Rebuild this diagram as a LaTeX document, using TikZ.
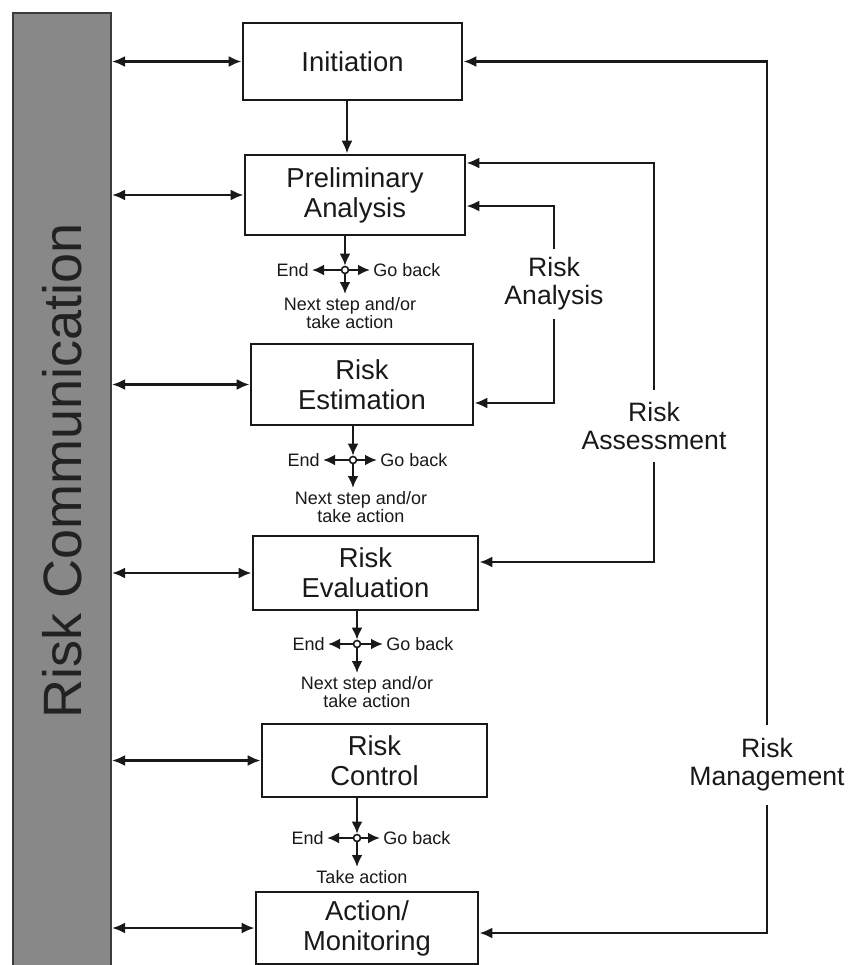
\documentclass[tikz,border=0pt]{standalone}
\usepackage{fontspec}
\setmainfont{Liberation Sans}
\usetikzlibrary{arrows.meta}
\definecolor{barfill}{RGB}{136,136,136}
\definecolor{bardraw}{RGB}{60,60,60}
\definecolor{bartext}{RGB}{34,34,34}
\definecolor{ink}{RGB}{25,25,25}
\begin{document}
\begin{tikzpicture}[x=0.5pt,y=-0.5pt,
  box/.style={draw=ink,line width=1.4pt,fill=white,inner sep=0pt,align=center,text=ink,font=\fontsize{13.7}{15}\selectfont},
  arr/.style={draw=ink,line width=1.2pt,-{Latex[length=6.5pt,width=5.5pt]}},
  darr/.style={draw=ink,line width=1.2pt,{Latex[length=6.5pt,width=5.5pt]}-{Latex[length=6.5pt,width=5.5pt]}},
  sarr/.style={draw=ink,line width=1.2pt,-{Latex[length=6pt,width=5.5pt]}},
  small/.style={inner sep=1.5pt,align=center,text=ink,font=\fontsize{9}{9}\selectfont},
  side/.style={align=center,text=ink,inner xsep=2pt,font=\fontsize{13.3}{14}\selectfont},
  dot/.style={circle,draw=ink,fill=white,line width=0.8pt,minimum size=3.5pt,inner sep=0pt}]
\useasboundingbox (0,0) rectangle (854,965);
\fill[white] (0,0) rectangle (854,965);
% left bar
\node[draw=bardraw,fill=barfill,line width=1pt,minimum width=49pt,minimum height=476.5pt,inner sep=0pt,anchor=north west] (bar) at (12,12) {};
\node[rotate=90,anchor=base,text=bartext,inner sep=0pt,font=\fontsize{27}{30}\selectfont] (rc) at (82,471) {Risk Communication};
% boxes
\node[box,minimum width=109.5pt,minimum height=38.5pt] (init) at (352.5,61.5) {Initiation};
\node[box,minimum width=110pt,minimum height=40pt] (prelim) at (355,195) {Preliminary\\Analysis};
\node[box,minimum width=111pt,minimum height=40.5pt] (est) at (362,384.5) {Risk\\Estimation};
\node[box,minimum width=112.5pt,minimum height=37pt] (eval) at (365.5,573) {Risk\\Evaluation};
\node[box,minimum width=112.5pt,minimum height=36.5pt] (ctrl) at (374.5,760.5) {Risk\\Control};
\node[box,minimum width=111pt,minimum height=36pt] (act) at (367,928) {Action/\\Monitoring};
% communication arrows
\foreach \b in {init,prelim,est,eval,ctrl,act}
  \draw[darr] (bar.east |- \b.west) -- (\b.west);
% initiation -> preliminary
\coordinate (x347) at (347,0);
\draw[arr] (init.south -| x347) -- (prelim.north -| x347);
% decision crosses
\node[dot] (c1) at (345,270) {};
\node[small,anchor=east] (e1) at (312,270) {End};
\node[small,anchor=west] (g1) at (370,270) {Go back};
\node[small,anchor=north] (n1) at (350,294) {Next step and/or\\take action};
\draw[sarr] (prelim.south -| c1) -- (c1.north);
\draw[sarr] (c1.west) -- (e1.east);
\draw[sarr] (c1.east) -- (g1.west);
\draw[sarr] (c1.south) -- (c1 |- n1.north);
\node[dot] (c2) at (353,460) {};
\node[small,anchor=east] (e2) at (323,460) {End};
\node[small,anchor=west] (g2) at (377,460) {Go back};
\node[small,anchor=north] (n2) at (361,488) {Next step and/or\\take action};
\draw[sarr] (est.south -| c2) -- (c2.north);
\draw[sarr] (c2.west) -- (e2.east);
\draw[sarr] (c2.east) -- (g2.west);
\draw[sarr] (c2.south) -- (c2 |- n2.north);
\node[dot] (c3) at (357,644) {};
\node[small,anchor=east] (e3) at (328,644) {End};
\node[small,anchor=west] (g3) at (383,644) {Go back};
\node[small,anchor=north] (n3) at (367,673) {Next step and/or\\take action};
\draw[sarr] (eval.south -| c3) -- (c3.north);
\draw[sarr] (c3.west) -- (e3.east);
\draw[sarr] (c3.east) -- (g3.west);
\draw[sarr] (c3.south) -- (c3 |- n3.north);
\node[dot] (c4) at (357,838) {};
\node[small,anchor=east] (e4) at (327,838) {End};
\node[small,anchor=west] (g4) at (380,838) {Go back};
\node[small,anchor=north] (n4) at (362,867) {Take action};
\draw[sarr] (ctrl.south -| c4) -- (c4.north);
\draw[sarr] (c4.west) -- (e4.east);
\draw[sarr] (c4.east) -- (g4.west);
\draw[sarr] (c4.south) -- (c4 |- n4.north);
% side loops
\coordinate (ya1) at (0,206);
\coordinate (ya2) at (0,403);
\coordinate (ys1) at (0,163);
\coordinate (ys2) at (0,562);
\coordinate (ym2) at (0,933);
\node[side,inner ysep=4pt] (ana) at (554,284) {Risk\\Analysis};
\node[side,inner ysep=6pt] (asm) at (654,426) {Risk\\Assessment};
\node[side,inner ysep=6.5pt] (mgmt) at (767,765) {Risk\\Management};
\draw[arr] (ana.north) |- (prelim.east |- ya1);
\draw[arr] (ana.south) |- (est.east |- ya2);
\draw[arr] (asm.north) |- (prelim.east |- ys1);
\draw[arr] (asm.south) |- (eval.east |- ys2);
\draw[arr] (mgmt.north) |- (init.east);
\draw[arr] (mgmt.south) |- (act.east |- ym2);
\end{tikzpicture}
\end{document}
